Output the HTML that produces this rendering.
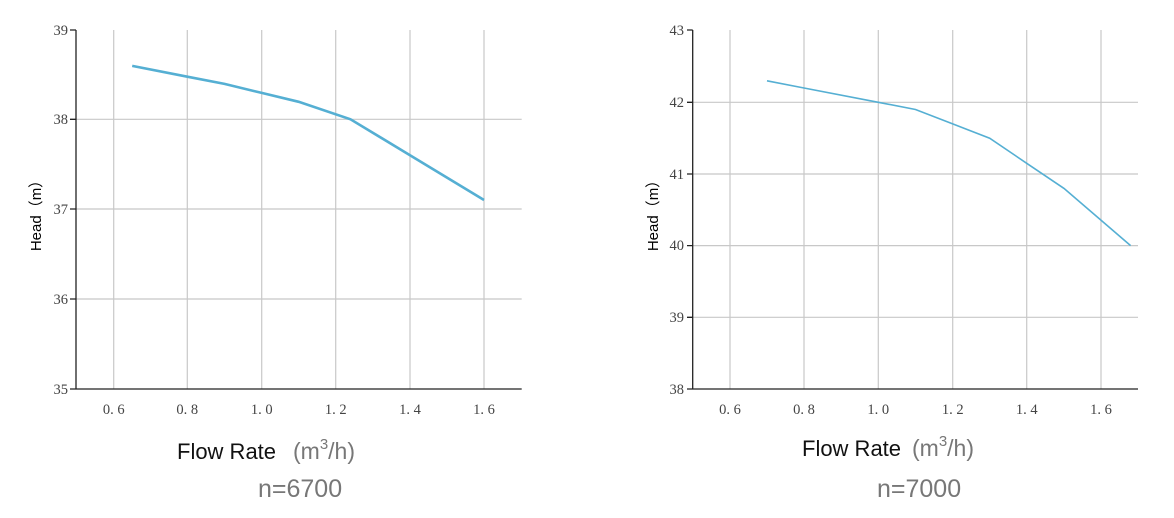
<!DOCTYPE html>
<html><head><meta charset="utf-8"><style>body{margin:0;background:#fff}svg{display:block}</style></head><body>
<svg width="1174" height="518" xmlns="http://www.w3.org/2000/svg">
<g stroke="#c8c8c8" stroke-width="1.2">
<line x1="113.7" y1="30" x2="113.7" y2="389"/><line x1="187.3" y1="30" x2="187.3" y2="389"/><line x1="261.7" y1="30" x2="261.7" y2="389"/><line x1="335.7" y1="30" x2="335.7" y2="389"/><line x1="410" y1="30" x2="410" y2="389"/><line x1="484" y1="30" x2="484" y2="389"/>
<line x1="76" y1="119.3" x2="521.7" y2="119.3"/><line x1="76" y1="209" x2="521.7" y2="209"/><line x1="76" y1="299" x2="521.7" y2="299"/>
<line x1="730" y1="30" x2="730" y2="389"/><line x1="804" y1="30" x2="804" y2="389"/><line x1="878.3" y1="30" x2="878.3" y2="389"/><line x1="952.7" y1="30" x2="952.7" y2="389"/><line x1="1026.7" y1="30" x2="1026.7" y2="389"/><line x1="1101" y1="30" x2="1101" y2="389"/>
<line x1="692.7" y1="102.3" x2="1138" y2="102.3"/><line x1="692.7" y1="174" x2="1138" y2="174"/><line x1="692.7" y1="245.6" x2="1138" y2="245.6"/><line x1="692.7" y1="317.3" x2="1138" y2="317.3"/>
</g>
<g stroke="#222" stroke-width="1.3" fill="none">
<path d="M76 30V389H521.7M70 30H76M70 119.3H76M70 209H76M70 299H76M70 389H76"/>
<path d="M692.7 30V389H1138M687 30H692.7M687 102.3H692.7M687 174H692.7M687 245.6H692.7M687 317.3H692.7M687 389H692.7"/>
</g>
<polyline fill="none" stroke="#55afd3" stroke-width="2.6" points="132.2,65.9 187.3,76.7 224.5,83.9 261.7,92.9 298.7,101.8 350.5,119.3 410,155.2 484,200"/>
<polyline fill="none" stroke="#55afd3" stroke-width="1.6" points="767,80.8 804,88 878.3,102.3 915.5,109.5 952.7,123.9 989.7,138.2 1026.7,163.3 1064,188.4 1130.6,245.6"/>
<g font-family="Liberation Serif, serif" font-size="14.5" fill="#444">
<g text-anchor="end"><text x="68" y="35">39</text><text x="68" y="124">38</text><text x="68" y="214">37</text><text x="68" y="304">36</text><text x="68" y="394">35</text>
<text x="684" y="35">43</text><text x="684" y="107">42</text><text x="684" y="179">41</text><text x="684" y="250">40</text><text x="684" y="322">39</text><text x="684" y="394">38</text></g>
<g text-anchor="middle"><text x="113.7" y="414">0. 6</text><text x="187.3" y="414">0. 8</text><text x="261.7" y="414">1. 0</text><text x="335.7" y="414">1. 2</text><text x="410" y="414">1. 4</text><text x="484" y="414">1. 6</text>
<text x="730" y="414">0. 6</text><text x="804" y="414">0. 8</text><text x="878.3" y="414">1. 0</text><text x="952.7" y="414">1. 2</text><text x="1026.7" y="414">1. 4</text><text x="1101" y="414">1. 6</text></g>
</g>
<g font-family="Liberation Sans, Noto Sans CJK SC, sans-serif" font-size="15" fill="#000" text-anchor="middle">
<text transform="translate(41,212) rotate(-90)">Head（m）</text>
<text transform="translate(658,212) rotate(-90)">Head（m）</text>
</g>
<g font-family="Liberation Sans, sans-serif">
<text x="177" y="459" font-size="22" fill="#111">Flow Rate</text>
<text x="293" y="459" font-size="23" fill="#777">(m<tspan font-size="15" dy="-10">3</tspan><tspan dy="10">/h)</tspan></text>
<text x="258" y="497" font-size="25" fill="#777">n=6700</text>
<text x="802" y="456" font-size="22" fill="#111">Flow Rate</text>
<text x="912" y="456" font-size="23" fill="#777">(m<tspan font-size="15" dy="-10">3</tspan><tspan dy="10">/h)</tspan></text>
<text x="877" y="497" font-size="25" fill="#777">n=7000</text>
</g>
</svg>
</body></html>
